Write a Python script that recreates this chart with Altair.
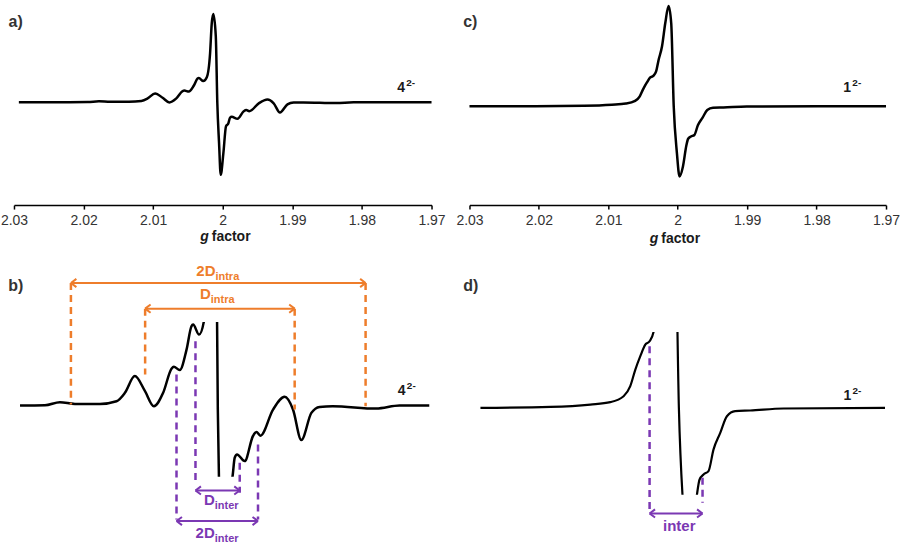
import altair as alt
import pandas as pd

# ---------------- spectra (g factor, intensity in arbitrary units) ----------------
g_4 = [2.0293, 2.02209, 2.01940, 2.01779, 2.01617, 2.01348, 2.01169, 2.01079, 2.00972,
       2.00864, 2.00767, 2.00667, 2.00577, 2.00552, 2.00488, 2.00415, 2.00362, 2.00344,
       2.00280, 2.00229, 2.00182, 2.00158, 2.00135, 2.00100, 2.00078, 2.00053, 2.00029,
       1.99991, 1.99953, 1.99920, 1.99896, 1.99871, 1.99788, 1.99699, 1.99662, 1.99619,
       1.99483, 1.99358, 1.99268, 1.99178, 1.99070, 1.98981, 1.98841, 1.98371, 1.98120,
       1.97797, 1.9700]
int_4 = [0, 0, 0.1, 1.0, 0.5, 0.5, 1.3, 3.8, 8.8,
         4.4, -0.2, 3.8, 11.0, 11.6, 10.6, 16.7, 23.7, 24.2,
         21.2, 25.0, 49, 79, 88.3, 66, -1, -41, -72.7,
         -51, -24, -21.3, -15.6, -14.6, -16.6, -9.1, -7.9, -9.0,
         -1.2, 2.6, -1.2, -10.3, -2.2, -0.4, -0.2, -0.9, 0,
         0, 0]

g_1 = [2.0300, 2.02054, 2.01350, 2.00949, 2.00748, 2.00614, 2.00547, 2.00496, 2.00446,
       2.00396, 2.00353, 2.00313, 2.00276, 2.00227, 2.00180, 2.00132, 2.00094, 2.00058,
       2.00012, 1.99974, 1.99925, 1.99876, 1.99850, 1.99810, 1.99760, 1.99710, 1.99642,
       1.99575, 1.99492, 1.99341, 1.99006, 1.97984, 1.9700]
int_1 = [0, 0, 0.45, 1.5, 2.6, 5.3, 9.9, 17.4, 23.5,
         28.8, 30.3, 34.5, 46.3, 59.7, 83, 100.3, 83, 0,
         -47, -70.3, -60.3, -39.4, -32.6, -30.3, -28.8, -19.0, -11.4,
         -3.8, -1.5, -1.2, -0.3, 0, 0]

tick_values = [2.03, 2.02, 2.01, 2.00, 1.99, 1.98, 1.97]
panel_letters = ["a)", "b)", "c)", "d)"]
species = ["4", "1"]
charge = "2-"

# ---------------- marked splittings ----------------
# panel b, orange (intramolecular): dashed markers
b_or_g = [2.016606, 1.984858, 2.008610, 1.992499]
b_or_top = [36.63, 36.63, 28.96, 28.96]
b_or_bot = [0.3, -0.18, 9.25, -1.19]
b_or_arrow_g1 = [2.016606, 2.008610]
b_or_arrow_g2 = [1.984858, 1.992499]
b_or_arrow_i = [36.63, 28.96]
b_or_main = ["2D", "D"]
b_or_sub = ["intra", "intra"]
b_or_lab_g = [2.001033, 2.001539]
b_or_lab_i = [38.63, 31.94]

# panel b, purple (intermolecular)
b_pu_g = [2.005230, 2.003186, 1.998418, 1.996449]
b_pu_top = [9.25, 19.22, -17.10, -11.64]
b_pu_bot = [-34.03, -23.58, -26.06, -34.03]
b_pu_arrow_g1 = [2.003186, 2.005230]
b_pu_arrow_g2 = [1.998418, 1.996449]
b_pu_arrow_i = [-25.37, -34.51]
b_pu_main = ["D", "2D"]
b_pu_sub = ["inter", "inter"]
b_pu_lab_g = [2.001108, 2.001108]
b_pu_lab_i = [-29.73, -39.70]

# panel d, purple
d_pu_g = [2.003527, 1.998201]
d_pu_top = [28.05, -31.82]
d_pu_bot = [-47.73, -43.18]
d_pu_arrow_g1 = [2.003527]
d_pu_arrow_g2 = [1.998201]
d_pu_arrow_i = [-48.05]
d_pu_text = ["inter"]
d_pu_lab_g = [2.000543]
d_pu_lab_i = [-56.05]

# label anchors (g, intensity) per panel a, b, c, d
letter_g = [2.030774, 2.023353, 2.030906, 2.022277]
letter_i = [75.0, 34.15, 79.7, 53.05]
species_g = [1.974939, 1.981382, 1.976144, 1.984033]
species_i = [10.7, 3.28, 14.7, 3.77]
axis_title_g = [2.001866, 2.002662]
axis_title_i = [-139.3, -137.0]

FONT = "Liberation Sans"
ORANGE = "#EE7D2B"
PURPLE = "#7B38B3"
INK = "#1a1a1a"

spec4 = pd.DataFrame({"g": g_4, "I": int_4})
spec1 = pd.DataFrame({"g": g_1, "I": int_1})


def sc(dom):
    return alt.Scale(domain=dom, nice=False, zero=False)


def g_axis():
    return alt.Axis(values=tick_values, format="~g", title=None, grid=False,
                    domainColor="#000", domainWidth=1.5, tickColor="#000", tickWidth=1.5,
                    tickSize=4, labelFontSize=14, labelColor="#333", labelFont=FONT,
                    labelPadding=4, labelFlush=False, labelOverlap=False)


def xy(xdom, ydom, with_axis=False, xf="g", yf="I"):
    return dict(x=alt.X(f"{xf}:Q", scale=sc(xdom), axis=g_axis() if with_axis else None),
                y=alt.Y(f"{yf}:Q", scale=sc(ydom), axis=None))


def text(g, i, s, ax, size, color, align="left", dx=0, dy=0, italic=False):
    xdom, ydom, wa = ax
    df = pd.DataFrame({"g": [g], "I": [i], "t": [s]})
    return alt.Chart(df).mark_text(
        font=FONT, fontSize=size, fontWeight="bold",
        fontStyle="italic" if italic else "normal",
        color=color, align=align, baseline="alphabetic", dx=dx, dy=dy
    ).encode(text="t:N", **xy(xdom, ydom, wa))


def species_label(k, idx, ax):
    return [text(species_g[k], species_i[k], species[idx], ax, 14, INK),
            text(species_g[k], species_i[k], charge, ax, 10, INK, dx=9, dy=-6)]


def dashed(gs, tops, bots, color, ax):
    xdom, ydom, wa = ax
    df = pd.DataFrame({"g": gs, "I": tops, "I2": bots})
    e = xy(xdom, ydom, wa)
    return alt.Chart(df).mark_rule(color=color, strokeWidth=2.5, strokeDash=[7, 5]).encode(
        x=e["x"], y=e["y"], y2="I2:Q")


def arrows(g1, g2, iv, color, ax):
    xdom, ydom, wa = ax
    df = pd.DataFrame({"g": g1, "g2": g2, "I": iv})
    e = xy(xdom, ydom, wa)
    line = alt.Chart(df).mark_rule(color=color, strokeWidth=2).encode(x=e["x"], x2="g2:Q", y=e["y"])
    left = pd.DataFrame({"g": g1, "I": iv})
    right = pd.DataFrame({"g": g2, "I": iv})
    hl = alt.Chart(left).mark_point(shape="M0,0L1,-0.75M0,0L1,0.75", size=120, filled=False,
                                    strokeWidth=2, color=color, opacity=1).encode(**xy(xdom, ydom, wa))
    hr = alt.Chart(right).mark_point(shape="M0,0L-1,-0.75M0,0L-1,0.75", size=120, filled=False,
                                     strokeWidth=2, color=color, opacity=1).encode(**xy(xdom, ydom, wa))
    return [line, hl, hr]


def axis_title(k, ax):
    return [text(axis_title_g[k], axis_title_i[k], "g", ax, 14, INK, align="right", dx=-1, italic=True),
            text(axis_title_g[k], axis_title_i[k], "factor", ax, 14, INK, align="left", dx=2)]


# ---------------- panel a ----------------
A = ([2.03, 1.97], [-103, 99], True)
a_line = alt.Chart(spec4).mark_line(color="#000", strokeWidth=2.5, interpolate="monotone").encode(
    **xy(A[0], A[1], True))
panel_a = alt.layer(
    a_line,
    text(letter_g[0], letter_i[0], panel_letters[0], A, 16, "#333"),
    *species_label(0, 0, A),
    *axis_title(0, A),
).properties(width=418, height=202)

# ---------------- panel c ----------------
C = ([2.03, 1.97], [-99, 103], True)
c_line = alt.Chart(spec1).mark_line(color="#000", strokeWidth=2.5, interpolate="monotone").encode(
    **xy(C[0], C[1], True))
panel_c = alt.layer(
    c_line,
    text(letter_g[2], letter_i[2], panel_letters[2], C, 16, "#333"),
    *species_label(2, 1, C),
    *axis_title(1, C),
).properties(width=417, height=202)

# ---------------- panel b (zoom of 4^2-) ----------------
B = ([2.022740, 1.977970], [-21.284, 24.985], False)
b_line = alt.Chart(spec4).transform_filter(
    "datum.g >= 1.97796 && datum.g <= 2.0221"
).mark_line(color="#000", strokeWidth=2.5, interpolate="monotone", clip=True).encode(**xy(B[0], B[1]))
b_layers = [b_line,
            dashed(b_or_g, b_or_top, b_or_bot, ORANGE, B),
            dashed(b_pu_g, b_pu_top, b_pu_bot, PURPLE, B),
            *arrows(b_or_arrow_g1, b_or_arrow_g2, b_or_arrow_i, ORANGE, B),
            *arrows(b_pu_arrow_g1, b_pu_arrow_g2, b_pu_arrow_i, PURPLE, B),
            text(letter_g[1], letter_i[1], panel_letters[1], B, 16, "#333"),
            *species_label(1, 0, B)]
for k in range(2):
    b_layers.append(text(b_or_lab_g[k], b_or_lab_i[k], b_or_main[k], B, 15, ORANGE, align="right"))
    b_layers.append(text(b_or_lab_g[k], b_or_lab_i[k], b_or_sub[k], B, 11, ORANGE, align="left", dy=4))
    b_layers.append(text(b_pu_lab_g[k], b_pu_lab_i[k], b_pu_main[k], B, 15, PURPLE, align="right"))
    b_layers.append(text(b_pu_lab_g[k], b_pu_lab_i[k], b_pu_sub[k], B, 11, PURPLE, align="left", dy=4))
panel_b = alt.layer(*b_layers).properties(width=416, height=155)

# ---------------- panel d (zoom of 1^2-) ----------------
D = ([2.021643, 1.979846], [-39.545, 34.545], False)
d_line = alt.Chart(spec1).transform_filter(
    "datum.g >= 1.97983 && datum.g <= 2.02055"
).mark_line(color="#000", strokeWidth=2.2, interpolate="monotone", clip=True).encode(**xy(D[0], D[1]))
panel_d = alt.layer(
    d_line,
    dashed(d_pu_g, d_pu_top, d_pu_bot, PURPLE, D),
    *arrows(d_pu_arrow_g1, d_pu_arrow_g2, d_pu_arrow_i, PURPLE, D),
    text(d_pu_lab_g[0], d_pu_lab_i[0], d_pu_text[0], D, 15, PURPLE, align="center"),
    text(letter_g[3], letter_i[3], panel_letters[3], D, 16, "#333"),
    *species_label(3, 1, D),
).properties(width=416, height=163)

left = alt.vconcat(panel_a, panel_b, spacing=117, bounds="flush")
right = alt.vconcat(panel_c, panel_d, spacing=127, bounds="flush")

chart = alt.hconcat(left, right, spacing=10).properties(
    padding=0, background="#ffffff"
).configure(font=FONT).configure_view(stroke=None)

chart.save("out.html", embed_options={"renderer": "svg", "actions": False})
